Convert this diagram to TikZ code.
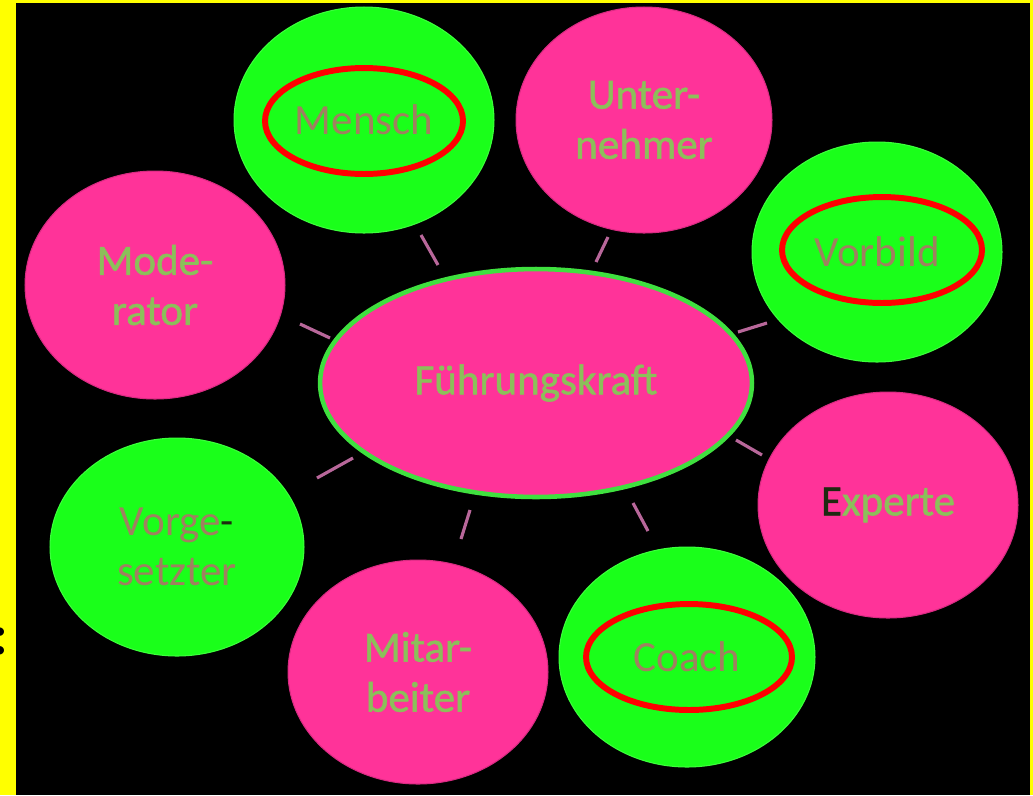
\documentclass[tikz,border=0pt]{standalone}
\usepackage{fontspec}
\setmainfont{Carlito}
\newfontfamily\heavyfont[FakeBold=1.2]{Carlito}
\usetikzlibrary{shapes.geometric,calc}
\definecolor{framebg}{HTML}{FFFF00}
\definecolor{blobpink}{HTML}{FF3399}
\definecolor{blobgreen}{HTML}{1AFF1A}
\definecolor{hubline}{HTML}{3FE03F}
\definecolor{pinktext}{HTML}{8CBF5A}
\definecolor{greentext}{HTML}{A08060}
\definecolor{spokecolor}{HTML}{B8679A}
\definecolor{ringred}{HTML}{FF0000}
\definecolor{darkmark}{HTML}{1E2A10}
\tikzset{
  blob/.style={ellipse,inner sep=0pt,align=center,
    font=\fontsize{24.5}{28.5}\selectfont},
  pinkblob/.style={blob,fill=blobpink,draw=blobpink!85!black,line width=0.6pt,text=pinktext,
    font=\heavyfont\fontsize{24.5}{28.5}\selectfont},
  greenblob/.style={blob,fill=blobgreen,draw=blobgreen!85!white,line width=0.6pt,text=greentext},
  ring/.style={ellipse,draw=ringred,line width=3.4pt,inner sep=0pt},
  spoke/.style={draw=spokecolor,line width=1.8pt}
}

\begin{document}
\begin{tikzpicture}[x=0.02cm,y=-0.02cm]
  \useasboundingbox (0,0) rectangle (1033,795);
  % frame and background
  \fill[framebg] (0,0) rectangle (1033,795);
  \fill[black] (16,3) rectangle (1030,795);
  \begin{scope}
    \clip (0,600) rectangle (6,680);
    \node[font=\bfseries\fontsize{32}{32}\selectfont,text=black,anchor=base east,inner sep=0pt]
      (cutcolon) at (8,654) {:};
  \end{scope}

  % hub
  \node[pinkblob,draw=hubline,line width=2.6pt,
        minimum width=8.64cm,minimum height=4.56cm] (fk) at (536,383) {Führungskraft};

  % roles around the hub
  \node[greenblob,minimum width=5.2cm,minimum height=4.52cm] (mensch) at (364,120) {Mensch};
  \node[pinkblob,minimum width=5.12cm,minimum height=4.52cm] (unternehmer) at (644,120) {Unter-\\nehmer};
  \node[greenblob,minimum width=5.0cm,minimum height=4.4cm] (vorbild) at (877,252) {Vorbild};
  \node[pinkblob,minimum width=5.2cm,minimum height=4.52cm] (experte) at (888,505)
    {{\color{darkmark}E}xperte};
  \node[greenblob,minimum width=5.12cm,minimum height=4.4cm] (coach) at (687,657) {Coach};
  \node[pinkblob,minimum width=5.2cm,minimum height=4.48cm] (mitarbeiter) at (418,672) {Mitar-\\beiter};
  \node[greenblob,minimum width=5.08cm,minimum height=4.36cm] (vorgesetzter) at (177,547)
    {Vorge{\color{darkmark}-}\\setzter};
  \node[pinkblob,minimum width=5.2cm,minimum height=4.56cm] (moderator) at (155,285) {Mode-\\rator};

  % short spokes between roles and hub
  \draw[spoke] ($(mensch)+(57,115)$) -- ($(fk)+(-98,-118)$);
  \draw[spoke] ($(unternehmer)+(-36,117)$) -- ($(fk)+(60,-121)$);
  \draw[spoke] ($(vorbild)+(-110,71)$) -- ($(fk)+(202,-51)$);
  \draw[spoke] ($(experte)+(-126,-50)$) -- ($(fk)+(200,57)$);
  \draw[spoke] ($(coach)+(-39,-126)$) -- ($(fk)+(97,120)$);
  \draw[spoke] ($(mitarbeiter)+(43,-133)$) -- ($(fk)+(-66,127)$);
  \draw[spoke] ($(vorgesetzter)+(140,-69)$) -- ($(fk)+(-183,75)$);
  \draw[spoke] ($(moderator)+(145,39)$) -- ($(fk)+(-206,-45)$);

  % red rings
  \node[ring,minimum width=3.96cm,minimum height=2.12cm] (mensch ring) at (364,121) {};
  \node[ring,minimum width=4.0cm,minimum height=2.12cm] (vorbild ring) at (882,250) {};
  \node[ring,minimum width=4.12cm,minimum height=2.12cm] (coach ring) at (689,657) {};
\end{tikzpicture}
\end{document}
